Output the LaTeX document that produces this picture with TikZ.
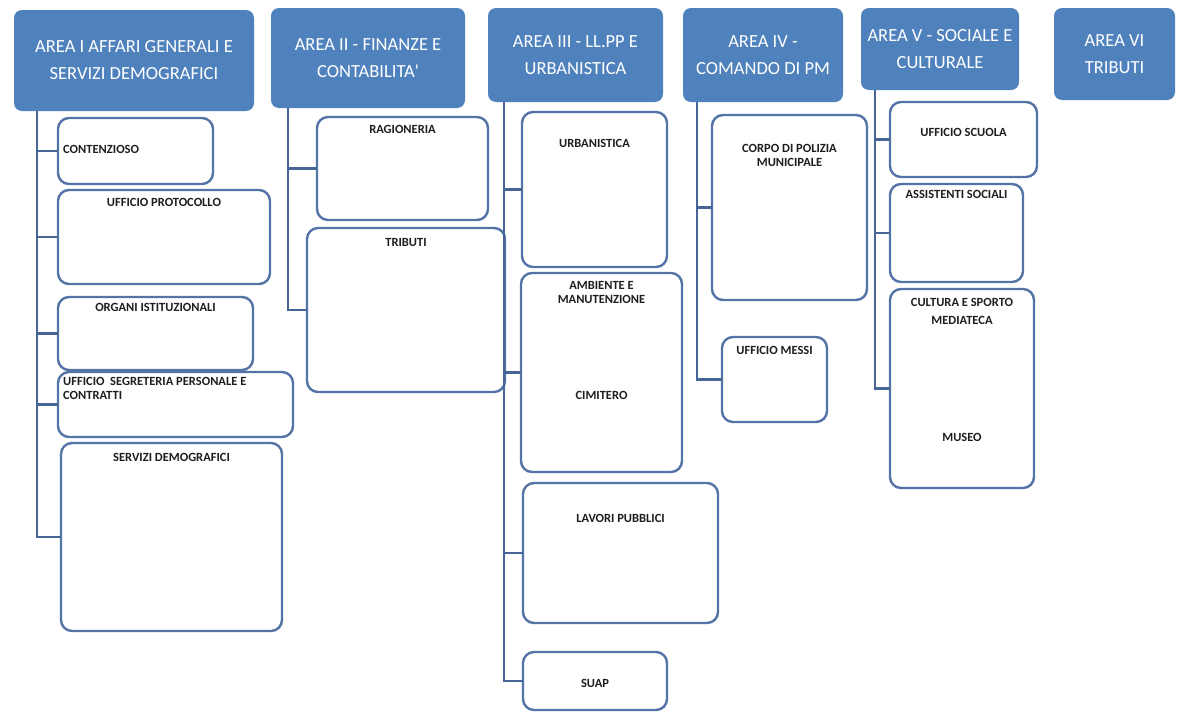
\documentclass[tikz,border=0pt]{standalone}
\usepackage{fontspec}
\setmainfont{Carlito}
\newfontfamily\hfont{Carlito}
\definecolor{hdrblue}{RGB}{79,129,189}
\definecolor{boxblue}{RGB}{84,116,168}
\definecolor{lineblue}{RGB}{70,102,152}
\definecolor{txt}{RGB}{30,30,30}
\tikzset{
  hdr/.style={fill=hdrblue, draw=none, rounded corners=8pt, text=white, align=center,
    font=\hfont\fontsize{18.5}{27}\selectfont, inner sep=0pt, outer sep=0pt, anchor=north west},
  subbox/.style={draw=boxblue, line width=2.4pt, fill=white, rounded corners=11pt,
    inner sep=0pt, outer sep=0pt, anchor=north west},
  lbl/.style={text=txt, font=\bfseries\fontsize{12.5}{14}\selectfont, inner sep=0pt, align=center},
  lbll/.style={text=txt, font=\bfseries\fontsize{12.5}{14}\selectfont, inner sep=0pt, align=left, anchor=west},
  conn/.style={draw=lineblue, line width=2.2pt}
}
\newcommand\mybox[5]{\node[subbox, minimum width={#4-#2}, minimum height={#5-#3}] (#1) at (#2,#3) {};}
\newcommand\myhdr[6]{\node[hdr, minimum width={#4-#2}, minimum height={#5-#3}] (#1) at (#2,#3) {#6};}
\begin{document}
\begin{tikzpicture}[x=1pt,y=-1pt]
\useasboundingbox[fill=white] (0,0) rectangle (1180,712);
% headers
\myhdr{h1}{14}{10}{254}{111}{AREA I AFFARI GENERALI E\\SERVIZI DEMOGRAFICI}
\myhdr{h2}{271}{8}{465}{108}{AREA II - FINANZE E\\CONTABILITA'}
\myhdr{h3}{488}{8}{663}{102}{AREA III - LL.PP E\\URBANISTICA}
\myhdr{h4}{683}{8}{843}{102}{AREA IV -\\COMANDO DI PM}
\myhdr{h5}{861}{8}{1019}{90}{AREA V - SOCIALE E\\CULTURALE}
\myhdr{h6}{1054}{8}{1175}{100}{AREA VI\\TRIBUTI}
% trunk coordinates
\coordinate (t1) at (37,0);
\coordinate (t2) at (288,0);
\coordinate (t3) at (504,0);
\coordinate (t4) at (697,0);
\coordinate (t5) at (875,0);
% area I boxes
\mybox{cont}{58}{118}{213}{184}
\mybox{prot}{58}{190}{270}{284}
\mybox{orga}{58}{297}{253}{370}
\mybox{segr}{58}{372}{293}{437}
\mybox{serv}{61}{443}{282}{631}
% area II
\mybox{ragi}{317}{117}{488}{220}
\mybox{trib}{307}{228}{505}{392}
% area III
\mybox{urba}{522}{112}{667}{267}
\mybox{ambi}{521}{273}{682}{472}
\mybox{lavo}{523}{483}{718}{623}
\mybox{suap}{523}{652}{667}{710}
% area IV
\mybox{corp}{712}{115}{867}{300}
\mybox{mess}{722}{337}{827}{422}
% area V
\mybox{scuo}{890}{102}{1037}{177}
\mybox{assi}{890}{184}{1023}{282}
\mybox{cult}{890}{289}{1034}{488}
% trunks
\draw[conn] (t1 |- h1.south) |- (serv.west);
\draw[conn] (t2 |- h2.south) |- (trib.west);
\draw[conn] (t3 |- h3.south) |- (suap.west);
\draw[conn] (t4 |- h4.south) |- (mess.west);
\draw[conn] (t5 |- h5.south) |- (cult.west);
% branches
\foreach \b/\t in {cont/t1,prot/t1,orga/t1,segr/t1,ragi/t2,urba/t3,ambi/t3,lavo/t3,corp/t4,scuo/t5,assi/t5}
  \draw[conn] (\b.west) -- (\b.west -| \t);
% labels
\node[lbll] (l-cont) at ([xshift=5pt,yshift=-31pt]cont.north west) {CONTENZIOSO};
\node[lbl] (l-prot) at ([yshift=-12pt]prot.north) {UFFICIO PROTOCOLLO};
\node[lbl] (l-orga) at ([yshift=-10pt]orga.north) {ORGANI ISTITUZIONALI};
\node[lbll] (l-segr) at ([xshift=5pt,yshift=-16pt]segr.north west) {UFFICIO\ \ SEGRETERIA PERSONALE E\\CONTRATTI};
\node[lbl] (l-serv) at ([yshift=-14pt]serv.north) {SERVIZI DEMOGRAFICI};
\node[lbl] (l-ragi) at ([yshift=-12pt]ragi.north) {RAGIONERIA};
\node[lbl] (l-trib) at ([yshift=-14pt]trib.north) {TRIBUTI};
\node[lbl] (l-urba) at ([yshift=-31pt]urba.north) {URBANISTICA};
\node[lbl] (l-ambi) at ([yshift=-19.5pt]ambi.north) {AMBIENTE E\\MANUTENZIONE};
\node[lbl] (l-cimi) at ([yshift=-122pt]ambi.north) {CIMITERO};
\node[lbl] (l-lavo) at ([yshift=-35pt]lavo.north) {LAVORI PUBBLICI};
\node[lbl] (l-suap) at ([yshift=-31pt]suap.north) {SUAP};
\node[lbl] (l-corp) at ([yshift=-40pt]corp.north) {CORPO DI POLIZIA\\MUNICIPALE};
\node[lbl] (l-mess) at ([yshift=-13pt]mess.north) {UFFICIO MESSI};
\node[lbl] (l-scuo) at ([yshift=-30pt]scuo.north) {UFFICIO SCUOLA};
\node[lbl] (l-assi) at ([yshift=-10pt]assi.north) {ASSISTENTI SOCIALI};
\node[lbl, font=\bfseries\fontsize{12.5}{18}\selectfont] (l-cult) at ([yshift=-22pt]cult.north) {CULTURA E SPORTO\\MEDIATECA};
\node[lbl] (l-muse) at ([yshift=-148pt]cult.north) {MUSEO};
\end{tikzpicture}
\end{document}
